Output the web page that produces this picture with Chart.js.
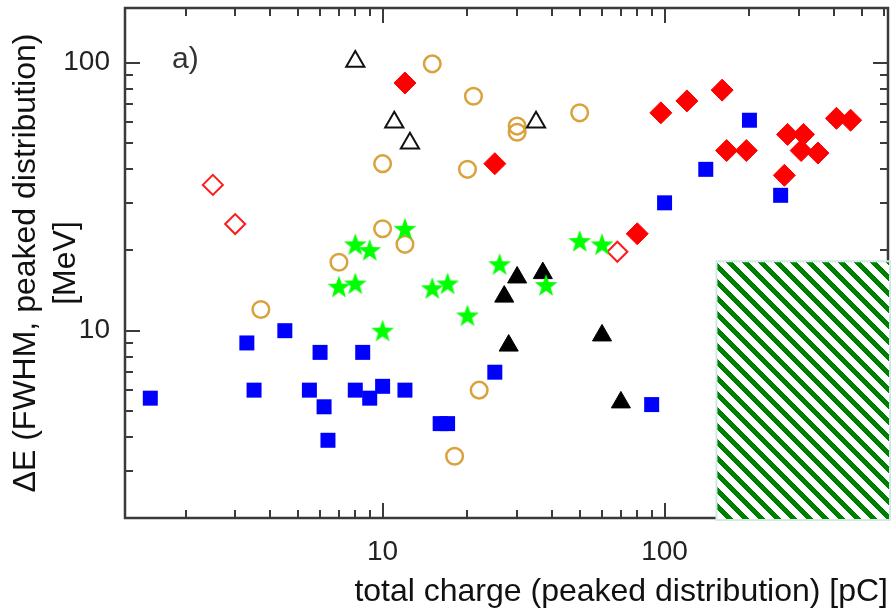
<!DOCTYPE html>
<html lang="en">
<head>
<meta charset="UTF-8">
<title>Energy spread vs. charge</title>
<script src="https://cdn.jsdelivr.net/npm/chart.js@4.4.1/dist/chart.umd.min.js"></script>
<style>
  html, body { margin: 0; padding: 0; background: #fff; }
  canvas { display: block; }
</style>
</head>
<body>
<canvas id="chart" width="896" height="615"></canvas>
<script>
// values: x = total charge [pC], y = dE FWHM [MeV]
const blueX = [1.5, 3.3, 3.5, 4.5, 5.5, 6, 6.2, 6.4, 8, 8.5, 9, 10, 12, 16, 17, 25, 90, 100, 140, 200, 258];
const blueY = [5.6, 9, 6, 10, 6, 8.3, 5.2, 3.9, 6, 8.3, 5.6, 6.2, 6, 4.5, 4.5, 7, 5.3, 30, 40, 61, 32];

const circleX = [3.7, 7, 10, 10, 12, 15, 20, 21, 30, 30, 50, 22, 18];
const circleY = [12, 18, 42, 24, 21, 99, 40, 75, 58, 55, 65, 6, 3.4];

const redX = [12, 25, 80, 97, 120, 160, 166, 195, 273, 311, 305, 350, 266, 407, 457];
const redY = [84, 42, 23, 65, 72, 79, 47, 47, 54, 54, 47, 46, 38, 62, 61];

const openDiamondX = [2.5, 3, 68];
const openDiamondY = [35, 25, 19.7];

const openTriX = [8, 11, 12.5, 35];
const openTriY = [101, 60, 50, 60];

const blackTriX = [27, 28, 30, 37, 60, 70];
const blackTriY = [13.4, 8.8, 15.8, 16.4, 9.6, 5.4];

const starX = [7, 8, 8, 9, 10, 12, 15, 17, 20, 26, 38, 50, 60];
const starY = [14.6, 21, 15, 20, 10, 24, 14.4, 15, 11.4, 17.7, 14.8, 21.6, 21];

const xTicks = [10, 100];
const yTicks = [10, 100];

// hatched box in the lower right corner (data units)
const hatchFromCharge = 154;
const hatchUpToEnergy = 18;

const FONT = "'Liberation Sans', Arial, Helvetica, sans-serif";

function pts(xs, ys) {
    return xs.map((x, i) => ({ x: x, y: ys[i] }));
}

function makeStar(outer, inner, color) {
    const c = document.createElement('canvas');
    const s = Math.ceil(outer * 2 + 2);
    c.width = s;
    c.height = s;
    const g = c.getContext('2d');
    g.translate(s / 2, s / 2 + 1);
    g.beginPath();
    for (let i = 0; i < 10; i++) {
        const r = i % 2 ? inner : outer;
        const a = -Math.PI / 2 + i * Math.PI / 5;
        g.lineTo(r * Math.cos(a), r * Math.sin(a));
    }
    g.closePath();
    g.fillStyle = color;
    g.fill();
    return c;
}

// minor + major tick values of a log axis
function logTicks(min, max) {
    const out = [];
    for (let d = Math.floor(Math.log10(min)); d <= Math.ceil(Math.log10(max)); d++) {
        for (let m = 1; m <= 9; m++) {
            const v = m * Math.pow(10, d);
            if (v >= min && v <= max) out.push([v, m === 1]);
        }
    }
    return out;
}

const framePlugin = {
    id: 'frame',
    beforeDatasetsDraw(chart) {
        const { ctx, chartArea: a, scales: { x, y } } = chart;
        ctx.save();
        ctx.strokeStyle = '#3a3a3a';
        ctx.lineWidth = 2.5;
        ctx.strokeRect(a.left, a.top, a.right - a.left, a.bottom - a.top);
        ctx.lineWidth = 2;
        ctx.beginPath();
        logTicks(x.min, x.max).forEach(([v, major]) => {
            const px = Math.round(x.getPixelForValue(v));
            const len = major ? 15 : 8;
            ctx.moveTo(px, a.bottom); ctx.lineTo(px, a.bottom - len);
            ctx.moveTo(px, a.top); ctx.lineTo(px, a.top + len);
        });
        logTicks(y.min, y.max).forEach(([v, major]) => {
            const py = Math.round(y.getPixelForValue(v));
            const len = major ? 15 : 8;
            ctx.moveTo(a.left, py); ctx.lineTo(a.left + len, py);
            ctx.moveTo(a.right, py); ctx.lineTo(a.right - len, py);
        });
        ctx.stroke();

        ctx.fillStyle = '#333';
        ctx.font = '30px ' + FONT;
        ctx.textBaseline = 'alphabetic';
        ctx.fillText('a)', a.left + 47, a.top + 60);
        ctx.restore();
    }
};

const hatchPlugin = {
    id: 'hatch',
    afterDraw(chart) {
        const { ctx, chartArea: a, scales: { x, y } } = chart;
        const left = x.getPixelForValue(hatchFromCharge);
        const top = y.getPixelForValue(hatchUpToEnergy);
        const right = a.right + 1;
        const bottom = a.bottom + 1;

        const t = document.createElement('canvas');
        t.width = 16;
        t.height = 16;
        const g = t.getContext('2d');
        g.fillStyle = '#fff';
        g.fillRect(0, 0, 16, 16);
        g.fillStyle = '#008000';
        for (let i = 0; i < 16; i++) {
            for (let j = 0; j < 16; j++) {
                if ((((i - j) % 16) + 16) % 16 < 7) g.fillRect(i, j, 1, 1);
            }
        }

        ctx.save();
        ctx.fillStyle = '#d3e8e8';
        ctx.fillRect(left - 2, top - 2, right - left + 4, bottom - top + 4);
        ctx.fillStyle = ctx.createPattern(t, 'repeat');
        ctx.fillRect(left, top, right - left, bottom - top);
        ctx.restore();
    }
};

const star = makeStar(12, 4.8, '#00ff00');

const datasets = [
    { label: 'stars', data: pts(starX, starY), pointStyle: star, pointRadius: 10, pointBackgroundColor: '#00ff00', pointBorderWidth: 0 },
    { label: 'filled triangles', data: pts(blackTriX, blackTriY), pointStyle: 'triangle', pointRadius: 11, pointBackgroundColor: '#000', pointBorderColor: '#000', pointBorderWidth: 1 },
    { label: 'open triangles', data: pts(openTriX, openTriY), pointStyle: 'triangle', pointRadius: 10.5, pointBackgroundColor: 'rgba(0,0,0,0)', pointBorderColor: '#111', pointBorderWidth: 2 },
    { label: 'open diamonds', data: pts(openDiamondX, openDiamondY), pointStyle: 'rectRot', pointRadius: 10, pointBackgroundColor: 'rgba(255,255,255,0)', pointBorderColor: '#ff1a1a', pointBorderWidth: 2 },
    { label: 'red diamonds', data: pts(redX, redY), pointStyle: 'rectRot', pointRadius: 11, pointBackgroundColor: '#ff0000', pointBorderColor: '#ff0000', pointBorderWidth: 1 },
    { label: 'circles', data: pts(circleX, circleY), pointStyle: 'circle', pointRadius: 8.3, pointBackgroundColor: 'rgba(0,0,0,0)', pointBorderColor: '#d9a23c', pointBorderWidth: 2.5 },
    { label: 'squares', data: pts(blueX, blueY), pointStyle: 'rect', pointRadius: 10.6, pointBackgroundColor: '#0000ff', pointBorderColor: '#0000ff', pointBorderWidth: 0 }
];
datasets.forEach(d => { d.pointHoverRadius = d.pointRadius; });

new Chart(document.getElementById('chart'), {
    type: 'scatter',
    data: { datasets: datasets },
    options: {
        responsive: false,
        animation: false,
        devicePixelRatio: 1,
        layout: { autoPadding: false, padding: { top: 8, right: 8, left: 0, bottom: 0 } },
        plugins: {
            legend: { display: false },
            tooltip: { enabled: false }
        },
        scales: {
            x: {
                type: 'logarithmic',
                min: 1.22,
                max: 620,
                afterBuildTicks: s => { s.ticks = xTicks.map(v => ({ value: v })); },
                afterFit: s => { s.height = 97; s.paddingLeft = 0; s.paddingRight = 0; },
                grid: { display: false, drawTicks: false },
                border: { display: false },
                ticks: {
                    autoSkip: false,
                    maxRotation: 0,
                    padding: 17,
                    color: '#222',
                    font: { size: 28, family: FONT, lineHeight: 1.2 },
                    callback: v => String(v)
                },
                title: {
                    display: true,
                    text: 'total charge (peaked distribution) [pC]',
                    align: 'end',
                    color: '#111',
                    font: { size: 32, family: FONT, lineHeight: 1.25 },
                    padding: { top: 0, bottom: 3 }
                }
            },
            y: {
                type: 'logarithmic',
                min: 2,
                max: 160,
                afterBuildTicks: s => { s.ticks = yTicks.map(v => ({ value: v })); },
                afterFit: s => { s.width = 125; s.paddingTop = 0; s.paddingBottom = 0; },
                grid: { display: false, drawTicks: false },
                border: { display: false },
                ticks: {
                    autoSkip: false,
                    padding: 15,
                    color: '#222',
                    font: { size: 28, family: FONT, lineHeight: 1.2 },
                    callback: v => String(v)
                },
                title: {
                    display: true,
                    text: ['\u0394E (FWHM, peaked distribution)', '[MeV]'],
                    color: '#111',
                    font: { size: 32, family: FONT, lineHeight: 1.25 },
                    padding: { top: 6, bottom: 0 }
                }
            }
        }
    },
    plugins: [framePlugin, hatchPlugin]
});
</script>
</body>
</html>
